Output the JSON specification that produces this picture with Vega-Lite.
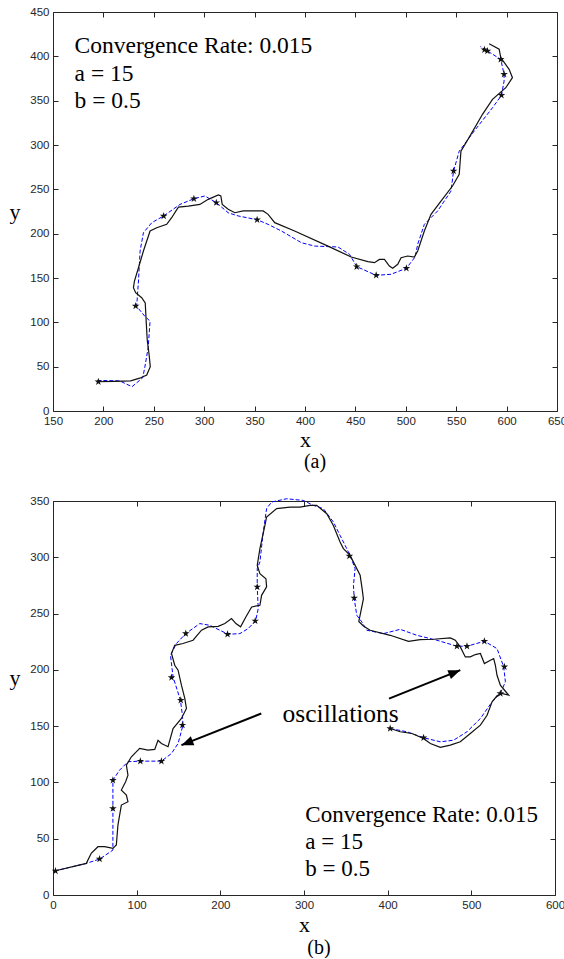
{
  "$schema": "https://vega.github.io/schema/vega-lite/v6.json",
  "background": "white",
  "padding": {"left": 8, "top": 5, "right": 0, "bottom": 0},
  "spacing": 21,
  "config": {
    "view": {"stroke": "#262626", "strokeWidth": 1},
    "axis": {
      "domain": false, "grid": false, "tickSize": -5, "tickColor": "#262626", "tickWidth": 1,
      "labelFont": "Liberation Sans", "labelFontSize": 11.5, "labelColor": "#262626",
      "labelPadding": 9, "labelFlush": false, "labelOverlap": false, "labelBound": false,
      "titleFont": "Liberation Serif", "titleFontSize": 22, "titleFontWeight": "normal", "titleColor": "black"
    },
    "title": {"font": "Liberation Serif", "fontSize": 20, "fontWeight": "normal", "color": "black"}
  },
  "datasets": {
    "a_true": [
      {"x":193.5,"y":33},{"x":211,"y":33.5},{"x":227,"y":34},{"x":236,"y":37},{"x":243,"y":40.6},{"x":246.5,"y":50},{"x":245.5,"y":62},{"x":243.5,"y":80},{"x":242.5,"y":100},{"x":241.5,"y":122},{"x":238,"y":127.8},{"x":232,"y":133.4},{"x":229.8,"y":139},{"x":230.8,"y":146.6},{"x":234.8,"y":161.6},{"x":239.7,"y":180.4},{"x":246.3,"y":203},{"x":252.9,"y":206.7},{"x":262.8,"y":210.5},{"x":267.7,"y":218},{"x":274.4,"y":230},{"x":284.3,"y":231},{"x":295.7,"y":233},{"x":304,"y":238.7},{"x":314,"y":243.6},{"x":316.5,"y":242.5},{"x":317.9,"y":233},{"x":323.8,"y":227.5},{"x":330.4,"y":223.6},{"x":338.7,"y":225.6},{"x":358.5,"y":225.6},{"x":363.4,"y":221.8},{"x":370,"y":212.4},{"x":389.7,"y":203},{"x":422.8,"y":186},{"x":445.8,"y":173.7},{"x":462.4,"y":168.4},{"x":468.9,"y":167.3},{"x":473.8,"y":171},{"x":478.8,"y":171},{"x":483.7,"y":163.5},{"x":487,"y":161},{"x":492,"y":165.4},{"x":495.3,"y":172.9},{"x":501.9,"y":174.8},{"x":508.5,"y":173.7},{"x":511.8,"y":180.4},{"x":518.4,"y":203},{"x":525,"y":221.8},{"x":534.9,"y":236.8},{"x":546.5,"y":254},{"x":553,"y":267},{"x":554.7,"y":293},{"x":564.6,"y":312},{"x":576.1,"y":334.6},{"x":586,"y":351.5},{"x":599.2,"y":364.6},{"x":605.8,"y":375.9},{"x":602.5,"y":385.4},{"x":594.2,"y":398.6},{"x":592.6,"y":408},{"x":582.7,"y":414.2}
    ],
    "a_est": [
      {"x":194,"y":34.5},{"x":216,"y":34},{"x":228.4,"y":27.4},{"x":239,"y":37.5},{"x":241,"y":48.8},{"x":244.4,"y":71.3},{"x":246.3,"y":101.3},{"x":241,"y":107},{"x":233,"y":118},{"x":234.8,"y":146.6},{"x":236.4,"y":180.4},{"x":239.7,"y":201},{"x":248,"y":212.4},{"x":259.8,"y":220},{"x":276,"y":233},{"x":289.8,"y":239.4},{"x":300.7,"y":242.5},{"x":312,"y":235},{"x":323.8,"y":223.6},{"x":333.7,"y":220},{"x":352.5,"y":215.7},{"x":363.4,"y":210.5},{"x":376.6,"y":203},{"x":396.4,"y":189.8},{"x":409.5,"y":186},{"x":432.7,"y":185},{"x":444.2,"y":176.7},{"x":451.3,"y":162.8},{"x":470.6,"y":153},{"x":485.4,"y":154.2},{"x":500.6,"y":161},{"x":509.2,"y":173.7},{"x":511.8,"y":188},{"x":518.4,"y":210.5},{"x":531.6,"y":225.6},{"x":544.8,"y":248},{"x":547.4,"y":270.7},{"x":553,"y":293},{"x":567.9,"y":315.8},{"x":586,"y":342},{"x":594.9,"y":356},{"x":597.5,"y":372},{"x":597.5,"y":379.7},{"x":594.2,"y":396.6},{"x":581,"y":406},{"x":574,"y":411}
    ],
    "a_stars": [
      {"x":195,"y":33},{"x":232,"y":118.4},{"x":259.8,"y":219.9},{"x":289.8,"y":239.4},{"x":312,"y":235},{"x":352.5,"y":215.7},{"x":451.3,"y":162.8},{"x":470.6,"y":153},{"x":500.6,"y":161},{"x":547.4,"y":270.7},{"x":594.9,"y":356},{"x":597.5,"y":379.7},{"x":594.2,"y":396.6},{"x":581,"y":406},{"x":578,"y":407.5}
    ],
    "a_text": [
      {"x":171.4,"y":404.1,"label":"Convergence Rate: 0.015"},
      {"x":171.4,"y":372.2,"label":"a = 15"},
      {"x":171.4,"y":341.4,"label":"b = 0.5"}
    ],
    "b_true": [
      {"x":1.8,"y":21.3},{"x":39.8,"y":28.1},{"x":45.7,"y":37},{"x":53.7,"y":42.9},{"x":61.7,"y":42.9},{"x":71.6,"y":41.4},{"x":75.7,"y":44.4},{"x":77.6,"y":62.1},{"x":81.7,"y":79.9},{"x":89.6,"y":82.9},{"x":87.7,"y":88.7},{"x":81.7,"y":93.2},{"x":86.8,"y":100.6},{"x":89.6,"y":106.5},{"x":87.7,"y":115.4},{"x":93.7,"y":122.8},{"x":103.6,"y":130.2},{"x":113.5,"y":128.7},{"x":121.6,"y":129.3},{"x":125.5,"y":137.5},{"x":129.6,"y":134.6},{"x":137.5,"y":131.7},{"x":143.5,"y":147.9},{"x":153.5,"y":156.8},{"x":159.5,"y":165.7},{"x":157.5,"y":174.6},{"x":153.5,"y":186.4},{"x":149.5,"y":199.7},{"x":145.5,"y":204.1},{"x":141.6,"y":214.5},{"x":145.5,"y":221.8},{"x":155.4,"y":223.4},{"x":167.4,"y":226.3},{"x":177.5,"y":235.2},{"x":185.4,"y":238.2},{"x":197.4,"y":238.7},{"x":205.4,"y":241.1},{"x":213.4,"y":245.5},{"x":218.6,"y":241.1},{"x":224.2,"y":238.2},{"x":230.5,"y":247},{"x":237.4,"y":255.9},{"x":247.3,"y":257.4},{"x":249.3,"y":266.2},{"x":255.3,"y":273.7},{"x":254.5,"y":281},{"x":247.3,"y":285.5},{"x":244.1,"y":292.8},{"x":247.3,"y":307.7},{"x":253.3,"y":328.3},{"x":255.3,"y":335.8},{"x":267.3,"y":343.2},{"x":283.2,"y":344.6},{"x":295.2,"y":344.6},{"x":307.2,"y":346.1},{"x":315.2,"y":346.1},{"x":327.2,"y":338.7},{"x":335.1,"y":328.3},{"x":343.1,"y":313.6},{"x":347.1,"y":307.7},{"x":355.1,"y":301.7},{"x":361.1,"y":292.8},{"x":367.1,"y":284},{"x":369.5,"y":272},{"x":371,"y":263},{"x":368,"y":252},{"x":365.5,"y":243},{"x":371,"y":239},{"x":379,"y":235.2},{"x":403,"y":230.7},{"x":424.9,"y":225.4},{"x":438.9,"y":226.9},{"x":454.9,"y":227.2},{"x":474.9,"y":228.4},{"x":480.8,"y":226.3},{"x":486.8,"y":220.4},{"x":492.8,"y":211.5},{"x":498.8,"y":211.5},{"x":504.8,"y":213.6},{"x":510.8,"y":214.5},{"x":515.6,"y":205.6},{"x":522.8,"y":208.5},{"x":526.7,"y":210},{"x":528.7,"y":204.1},{"x":530.7,"y":195.2},{"x":534.7,"y":186.4},{"x":540.7,"y":181},{"x":544.7,"y":177.5},{"x":536,"y":179},{"x":530.7,"y":177},{"x":524.8,"y":171.6},{"x":518.8,"y":159.7},{"x":510.8,"y":150.9},{"x":498.8,"y":143.5},{"x":486.8,"y":136.1},{"x":474.9,"y":133.1},{"x":462.9,"y":131.1},{"x":451,"y":134.6},{"x":442.9,"y":139.1},{"x":429,"y":143.5},{"x":415,"y":145},{"x":403,"y":147.9}
    ],
    "b_est": [
      {"x":1.8,"y":21.3},{"x":39.8,"y":28.1},{"x":55.7,"y":31.9},{"x":71.6,"y":39.9},{"x":71.6,"y":68.1},{"x":71.6,"y":102},{"x":79.6,"y":110.9},{"x":89.6,"y":118.4},{"x":104.4,"y":118.9},{"x":129.6,"y":118.9},{"x":141.6,"y":125.7},{"x":149.5,"y":134.6},{"x":155.4,"y":150.9},{"x":154.7,"y":159.7},{"x":152.3,"y":173},{"x":143.5,"y":193.8},{"x":140.4,"y":213},{"x":147.5,"y":223.4},{"x":158.7,"y":232.2},{"x":175.4,"y":241.1},{"x":187.4,"y":239.6},{"x":199.4,"y":235.2},{"x":209.3,"y":231.6},{"x":223.4,"y":232.2},{"x":233.3,"y":236.7},{"x":242.2,"y":243.5},{"x":245.3,"y":254.4},{"x":244.1,"y":273.7},{"x":244.1,"y":289.9},{"x":247.3,"y":295.9},{"x":251.3,"y":322.5},{"x":255.3,"y":343.2},{"x":261.3,"y":349.1},{"x":279.3,"y":352},{"x":299.2,"y":350.5},{"x":311.2,"y":346.1},{"x":323.1,"y":343.2},{"x":335.1,"y":331.4},{"x":343.1,"y":319.5},{"x":355.1,"y":301.7},{"x":361.1,"y":289.9},{"x":359.1,"y":275.1},{"x":360,"y":263.3},{"x":363.1,"y":248.5},{"x":369.1,"y":242.6},{"x":375,"y":235.2},{"x":395,"y":232.2},{"x":415,"y":236},{"x":434.9,"y":230.7},{"x":458.9,"y":226.3},{"x":482.8,"y":221},{"x":494.8,"y":221},{"x":515.6,"y":225.4},{"x":530.7,"y":218.9},{"x":538.7,"y":202.7},{"x":540.7,"y":189.4},{"x":534.7,"y":179},{"x":524.8,"y":171.6},{"x":510.8,"y":156.8},{"x":494.8,"y":145},{"x":478.8,"y":137.5},{"x":462.9,"y":136.1},{"x":442.9,"y":139.7},{"x":423,"y":145},{"x":403,"y":147.9}
    ],
    "b_stars": [
      {"x":3,"y":21.3},{"x":55.7,"y":31.9},{"x":71.6,"y":76.9},{"x":71.6,"y":102},{"x":104.4,"y":118.9},{"x":129.6,"y":118.9},{"x":154.7,"y":150.9},{"x":152.7,"y":173},{"x":141.6,"y":193.2},{"x":158.7,"y":232.2},{"x":208.6,"y":231.6},{"x":241.7,"y":243.5},{"x":244.1,"y":273.7},{"x":354.3,"y":301.2},{"x":360,"y":263.9},{"x":482.8,"y":221},{"x":494.8,"y":221},{"x":515.6,"y":225.4},{"x":539.5,"y":202.7},{"x":534.7,"y":179},{"x":403,"y":147.9},{"x":442.9,"y":139.7}
    ],
    "b_text": [
      {"x":301.6,"y":65.1,"label":"Convergence Rate: 0.015"},
      {"x":301.6,"y":40.6,"label":"a = 15"},
      {"x":301.6,"y":16.9,"label":"b = 0.5"}
    ],
    "b_note": [
      {"x":343.8,"y":154.1,"label":"oscillations"}
    ],
    "b_arrows": [
      {"name":"right","x":401.6,"y":174.5,"x2":486.8,"y2":199.7},
      {"name":"left","x":248.9,"y":161.2,"x2":153.5,"y2":133.1}
    ]
  },
  "vconcat": [
    {
      "width": 504,
      "height": 399,
      "title": {"text": "(a)", "orient": "bottom", "anchor": "middle", "offset": 2, "dx": 10},
      "resolve": {"axis": {"x": "independent", "y": "independent"}},
      "layer": [
        {
          "data": {"name": "a_est"},
          "mark": {"type": "line", "color": "#0000ff", "strokeWidth": 1, "strokeDash": [4, 2]},
          "encoding": {
            "x": {"field": "x", "type": "quantitative", "scale": {"domain": [150, 650], "nice": false, "zero": false},
                  "axis": {"orient": "bottom", "values": [150,200,250,300,350,400,450,500,550,600,650], "title": "x", "titleY": 35, "titleBaseline": "alphabetic"}},
            "y": {"field": "y", "type": "quantitative", "scale": {"domain": [0, 450], "nice": false, "zero": false},
                  "axis": {"orient": "left", "values": [0,50,100,150,200,250,300,350,400,450], "title": "y", "titleAngle": 0, "titleAlign": "left", "titleBaseline": "alphabetic", "titleX": -44, "titleY": 206}},
            "order": {"value": null}
          }
        },
        {
          "data": {"name": "a_true"},
          "mark": {"type": "line", "color": "#111111", "strokeWidth": 1.2},
          "encoding": {
            "x": {"field": "x", "type": "quantitative", "axis": {"orient": "top", "values": [150,200,250,300,350,400,450,500,550,600,650], "labels": false, "title": null}},
            "y": {"field": "y", "type": "quantitative", "axis": {"orient": "right", "values": [0,50,100,150,200,250,300,350,400,450], "labels": false, "title": null}},
            "order": {"value": null}
          }
        },
        {
          "data": {"name": "a_stars"},
          "mark": {"type": "point", "shape": "M0,-1L0.2245,-0.309L0.9511,-0.309L0.3633,0.118L0.5878,0.809L0,0.382L-0.5878,0.809L-0.3633,0.118L-0.9511,-0.309L-0.2245,-0.309Z", "filled": true, "color": "#111111", "size": 64, "opacity": 1},
          "encoding": {
            "x": {"field": "x", "type": "quantitative", "axis": null},
            "y": {"field": "y", "type": "quantitative", "axis": null}
          }
        },
        {
          "data": {"name": "a_text"},
          "mark": {"type": "text", "font": "Liberation Serif", "fontSize": 23.5, "align": "left", "baseline": "alphabetic", "color": "black"},
          "encoding": {
            "x": {"field": "x", "type": "quantitative", "axis": null},
            "y": {"field": "y", "type": "quantitative", "axis": null},
            "text": {"field": "label"}
          }
        }
      ]
    },
    {
      "width": 502,
      "height": 394,
      "title": {"text": "(b)", "orient": "bottom", "anchor": "middle", "offset": 2, "dx": 15},
      "resolve": {"axis": {"x": "independent", "y": "independent"}},
      "layer": [
        {
          "data": {"name": "b_est"},
          "mark": {"type": "line", "color": "#0000ff", "strokeWidth": 1, "strokeDash": [4, 2]},
          "encoding": {
            "x": {"field": "x", "type": "quantitative", "scale": {"domain": [0, 600], "nice": false, "zero": false},
                  "axis": {"orient": "bottom", "values": [0,100,200,300,400,500,600], "title": "x", "titleY": 36.5, "titleBaseline": "alphabetic"}},
            "y": {"field": "y", "type": "quantitative", "scale": {"domain": [0, 350], "nice": false, "zero": false},
                  "axis": {"orient": "left", "values": [0,50,100,150,200,250,300,350], "title": "y", "titleAngle": 0, "titleAlign": "left", "titleBaseline": "alphabetic", "titleX": -44, "titleY": 183}},
            "order": {"value": null}
          }
        },
        {
          "data": {"name": "b_true"},
          "mark": {"type": "line", "color": "#111111", "strokeWidth": 1.2},
          "encoding": {
            "x": {"field": "x", "type": "quantitative", "axis": {"orient": "top", "values": [0,100,200,300,400,500,600], "labels": false, "title": null}},
            "y": {"field": "y", "type": "quantitative", "axis": {"orient": "right", "values": [0,50,100,150,200,250,300,350], "labels": false, "title": null}},
            "order": {"value": null}
          }
        },
        {
          "data": {"name": "b_stars"},
          "mark": {"type": "point", "shape": "M0,-1L0.2245,-0.309L0.9511,-0.309L0.3633,0.118L0.5878,0.809L0,0.382L-0.5878,0.809L-0.3633,0.118L-0.9511,-0.309L-0.2245,-0.309Z", "filled": true, "color": "#111111", "size": 64, "opacity": 1},
          "encoding": {
            "x": {"field": "x", "type": "quantitative", "axis": null},
            "y": {"field": "y", "type": "quantitative", "axis": null}
          }
        },
        {
          "data": {"name": "b_text"},
          "mark": {"type": "text", "font": "Liberation Serif", "fontSize": 23, "align": "left", "baseline": "alphabetic", "color": "black"},
          "encoding": {
            "x": {"field": "x", "type": "quantitative", "axis": null},
            "y": {"field": "y", "type": "quantitative", "axis": null},
            "text": {"field": "label"}
          }
        },
        {
          "data": {"name": "b_note"},
          "mark": {"type": "text", "font": "Liberation Serif", "fontSize": 25.5, "align": "center", "baseline": "alphabetic", "color": "black"},
          "encoding": {
            "x": {"field": "x", "type": "quantitative", "axis": null},
            "y": {"field": "y", "type": "quantitative", "axis": null},
            "text": {"field": "label"}
          }
        },
        {
          "data": {"name": "b_arrows"},
          "mark": {"type": "rule", "color": "black", "strokeWidth": 2},
          "encoding": {
            "x": {"field": "x", "type": "quantitative", "axis": null},
            "y": {"field": "y", "type": "quantitative", "axis": null},
            "x2": {"field": "x2"},
            "y2": {"field": "y2"}
          }
        },
        {
          "data": {"name": "b_arrows"},
          "transform": [{"filter": "datum.name == 'right'"}],
          "mark": {"type": "point", "shape": "M0,0L0.4,1L-0.4,1Z", "filled": true, "color": "black", "size": 576, "opacity": 1, "angle": 68.2},
          "encoding": {
            "x": {"field": "x2", "type": "quantitative", "axis": null},
            "y": {"field": "y2", "type": "quantitative", "axis": null}
          }
        },
        {
          "data": {"name": "b_arrows"},
          "transform": [{"filter": "datum.name == 'left'"}],
          "mark": {"type": "point", "shape": "M0,0L0.4,1L-0.4,1Z", "filled": true, "color": "black", "size": 576, "opacity": 1, "angle": 248.3},
          "encoding": {
            "x": {"field": "x2", "type": "quantitative", "axis": null},
            "y": {"field": "y2", "type": "quantitative", "axis": null}
          }
        }
      ]
    }
  ]
}
